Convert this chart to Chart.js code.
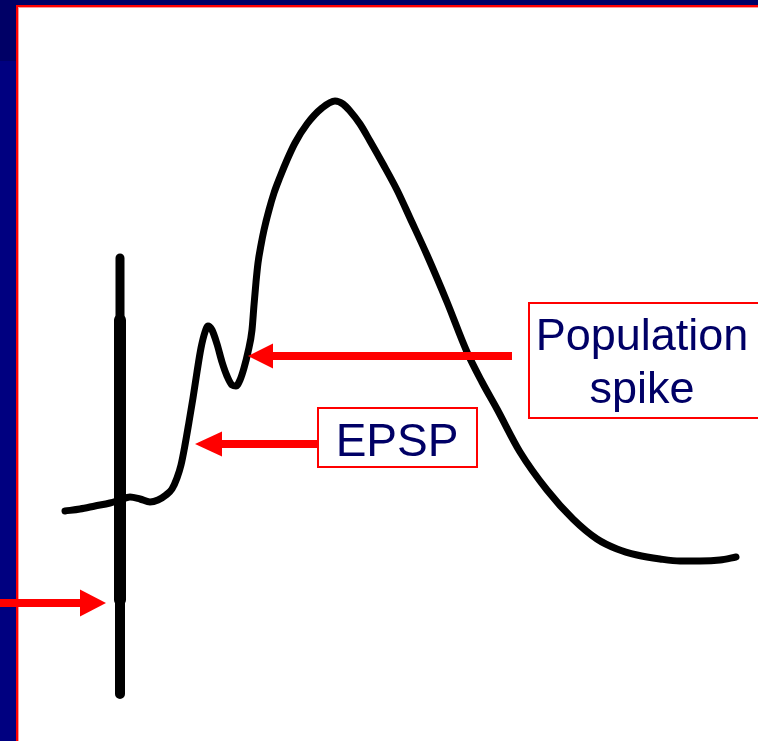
<!DOCTYPE html>
<html>
<head>
<meta charset="utf-8">
<script src="https://cdn.jsdelivr.net/npm/chart.js@4/dist/chart.umd.min.js"></script>
<style>
  html, body { margin: 0; padding: 0; width: 758px; height: 741px; overflow: hidden; background: #ffffff; }
  #frameTop { position: absolute; left: 0; top: 0; width: 758px; height: 5px; background: #000066; }
  #frameLeftA { position: absolute; left: 0; top: 0; width: 16px; height: 61px; background: #000066; }
  #frameLeftB { position: absolute; left: 0; top: 61px; width: 16px; height: 680px; background: #000080; }
  #redTop { position: absolute; left: 16px; top: 5px; width: 742px; height: 2px; background: #ff0000; }
  #redTop2 { position: absolute; left: 18px; top: 7px; width: 740px; height: 1px; background: #ff9a9a; }
  #redLeft { position: absolute; left: 16px; top: 5px; width: 2px; height: 736px; background: #ff0000; }
  #redLeft2 { position: absolute; left: 18px; top: 7px; width: 1px; height: 734px; background: #ff9a9a; }
  #wrap { position: absolute; left: 0; top: 0; width: 758px; height: 741px; }
</style>
</head>
<body>
<div id="frameTop"></div>
<div id="frameLeftA"></div>
<div id="frameLeftB"></div>
<div id="redTop"></div>
<div id="redTop2"></div>
<div id="redLeft"></div>
<div id="redLeft2"></div>
<div id="wrap"><canvas id="c" width="758" height="741"></canvas></div>
<script>
// ---- Field potential trace (time relative to stimulus, amplitude relative to baseline; arbitrary units) ----
const traceTime = [-55,-40,-25,-10,0,10,20,30,38,46,52,57,61,65,69,73,77,81,85,88,92,97,102,107,112,116,120,124,128,132,134,136,138,141,144,149,154,160,167,175,187,202,215,223,230,240,250,263,277,290,307,327,347,362,377,400,427,453,477,497,517,540,560,580,600,616];
const traceAmp  = [1,3,6,9,12,15,13,10,12,17,23,34,47,67,90,114,140,164,180,186,182,168,150,136,127,126,132,144,160,182,207,230,249,267,282,302,319,335,352,369,388,404,411,408,401,388,371,348,322,294,257,210,160,130,103,60,22,-7,-27,-37,-43,-47,-49,-49,-48,-45];

// ---- Stimulus artifact (three pieces of the vertical deflection) ----
const artifactTimeA = [0,0];   const artifactAmpA = [254,188];
const artifactTimeB = [0,0];   const artifactAmpB = [192,-88];
const artifactTimeC = [0,0];   const artifactAmpC = [-84,-182];

// ---- Annotation arrows: tail -> tip ----
const arrowTailTime = [-120,198,392];
const arrowTipTime  = [-14,75,128];
const arrowAmp      = [-91,68,156];

// ---- Label texts ----
const labelLines = [["EPSP"],["Population","spike"]];

const toXY = (xs, ys) => xs.map((x, i) => ({x: x, y: ys[i]}));

const labelBoxes = [
  { x0: 198, x1: 357, y0: 104, y1: 45, cx: 397 - 120, baselines: [56], size: 46 },
  { x0: 409, x1: 660, y0: 209, y1: 94, cx: 642 - 120, baselines: [162, 109], size: 45 }
];

const annotationPlugin = {
  id: 'annot',
  afterDatasetsDraw(chart) {
    const ctx = chart.ctx, xs = chart.scales.x, ys = chart.scales.y;
    ctx.save();
    ctx.fillStyle = '#ff0000';
    ctx.strokeStyle = '#ff0000';
    const headLen = [26, 27, 25], headHalf = [13.5, 12.5, 12.5];
    for (let i = 0; i < arrowTipTime.length; i++) {
      const tx = xs.getPixelForValue(arrowTailTime[i]);
      const px = xs.getPixelForValue(arrowTipTime[i]);
      const py = ys.getPixelForValue(arrowAmp[i]);
      const dir = Math.sign(tx - px);
      const hx = px + dir * headLen[i];
      ctx.lineWidth = 8;
      ctx.lineCap = 'butt';
      ctx.beginPath();
      ctx.moveTo(tx, py);
      ctx.lineTo(hx, py);
      ctx.stroke();
      ctx.beginPath();
      ctx.moveTo(px, py);
      ctx.lineTo(hx, py - headHalf[i]);
      ctx.lineTo(hx, py + headHalf[i]);
      ctx.closePath();
      ctx.fill();
    }
    labelBoxes.forEach((b, i) => {
      const x0 = xs.getPixelForValue(b.x0), x1 = xs.getPixelForValue(b.x1);
      const y0 = ys.getPixelForValue(b.y0), y1 = ys.getPixelForValue(b.y1);
      ctx.fillStyle = '#ffffff';
      ctx.fillRect(x0, y0, x1 - x0, y1 - y0);
      ctx.strokeStyle = '#ff0000';
      ctx.lineWidth = 2;
      ctx.strokeRect(x0, y0, x1 - x0, y1 - y0);
      ctx.fillStyle = '#000066';
      ctx.font = b.size + 'px "Liberation Sans", Arial, sans-serif';
      ctx.textAlign = 'center';
      ctx.textBaseline = 'alphabetic';
      const cx = xs.getPixelForValue(b.cx);
      labelLines[i].forEach((t, j) => {
        ctx.fillText(t, cx, ys.getPixelForValue(b.baselines[j]));
      });
    });
    ctx.restore();
  }
};

const lineStyle = (w) => ({
  borderColor: '#000000',
  borderWidth: w,
  pointRadius: 0,
  showLine: true,
  fill: false,
  borderCapStyle: 'butt',
  borderJoinStyle: 'round',
  clip: false
});

new Chart(document.getElementById('c'), {
  type: 'scatter',
  data: {
    datasets: [
      Object.assign({ label: 'trace', data: toXY(traceTime, traceAmp), cubicInterpolationMode: 'monotone' }, lineStyle(7), { borderCapStyle: 'round' }),
      Object.assign({ label: 'artifactA', data: toXY(artifactTimeA, artifactAmpA) }, lineStyle(9)),
      Object.assign({ label: 'artifactB', data: toXY(artifactTimeB, artifactAmpB) }, lineStyle(12)),
      Object.assign({ label: 'artifactC', data: toXY(artifactTimeC, artifactAmpC) }, lineStyle(10))
    ]
  },
  options: {
    responsive: false,
    animation: false,
    layout: { padding: 0 },
    plugins: { legend: { display: false }, tooltip: { enabled: false }, title: { display: false } },
    scales: {
      x: { type: 'linear', min: -120, max: 638, display: false },
      y: { type: 'linear', min: -229, max: 512, display: false }
    }
  },
  plugins: [annotationPlugin]
});
</script>
</body>
</html>
